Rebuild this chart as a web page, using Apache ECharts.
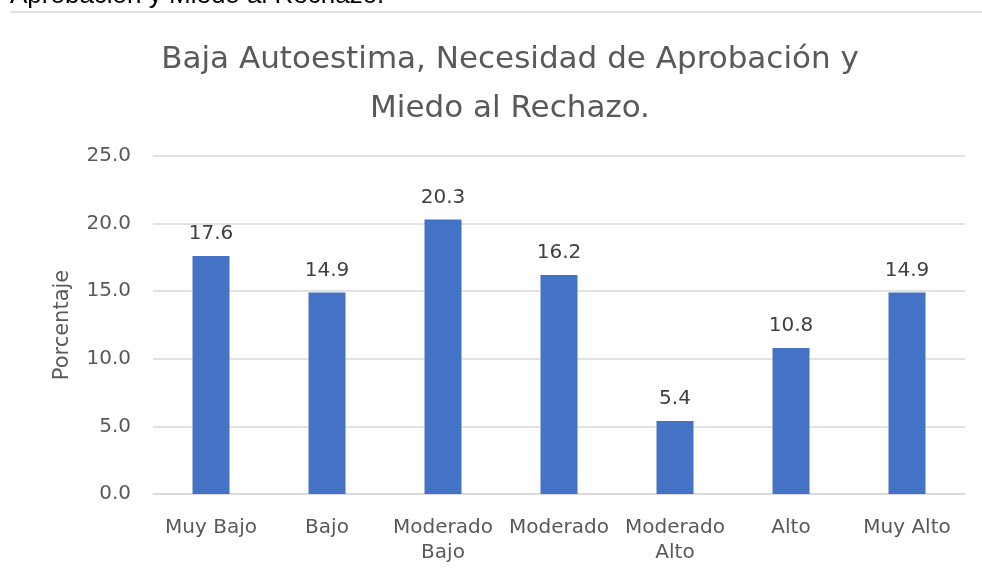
<!DOCTYPE html>
<html>
<head>
<meta charset="utf-8">
<script src="https://cdn.jsdelivr.net/npm/echarts@6/dist/echarts.min.js"></script>
<style>
  html, body { margin: 0; padding: 0; background: #fff; }
  #chart { width: 982px; height: 577px; }
</style>
</head>
<body>
<div id="chart"></div>
<script>
// datos del grafico
var categorias = ['Muy Bajo', 'Bajo', 'Moderado\nBajo', 'Moderado', 'Moderado\nAlto', 'Alto', 'Muy Alto'];
var porcentajes = [17.6, 14.9, 20.3, 16.2, 5.4, 10.8, 14.9];
var titulo = 'Baja Autoestima, Necesidad de Aprobación y\nMiedo al Rechazo.';
var textoArriba = 'Aprobación y Miedo al Rechazo.';

var myChart = echarts.init(document.getElementById('chart'));
var option = {
  animation: false,
  textStyle: {
    fontFamily: 'DejaVu Sans'
  },
  title: {
    text: titulo,
    left: 505,
    top: 30,
    textAlign: 'center',
    textStyle: {
      color: '#595959',
      fontSize: 31,
      fontWeight: 'normal',
      lineHeight: 49,
      fontFamily: 'DejaVu Sans'
    }
  },
  graphic: [
    {
      type: 'text',
      left: 10,
      top: -17,
      style: {
        text: textoArriba,
        fill: '#000',
        font: '26px "Liberation Sans"'
      }
    },
    {
      type: 'line',
      shape: { x1: 10, y1: 12, x2: 982, y2: 12 },
      style: { stroke: '#d9d9d9', lineWidth: 1.5 }
    }
  ],
  grid: {
    left: 153,
    right: 17,
    top: 156,
    bottom: 83
  },
  xAxis: {
    type: 'category',
    data: categorias,
    axisLine: {
      show: true,
      lineStyle: { color: '#d9d9d9', width: 1.5 }
    },
    axisTick: { show: false },
    axisLabel: {
      color: '#595959',
      fontSize: 20,
      lineHeight: 25,
      margin: 21,
      interval: 0
    }
  },
  yAxis: {
    type: 'value',
    min: 0,
    max: 25,
    interval: 5,
    name: 'Porcentaje',
    nameLocation: 'middle',
    nameGap: 80,
    nameTextStyle: {
      color: '#595959',
      fontSize: 21
    },
    axisLine: { show: false },
    axisTick: { show: false },
    splitLine: {
      show: true,
      lineStyle: { color: '#d9d9d9', width: 1.5 }
    },
    axisLabel: {
      color: '#595959',
      fontSize: 20,
      margin: 22,
      formatter: function (v) { return v.toFixed(1); }
    }
  },
  series: [
    {
      type: 'bar',
      data: porcentajes,
      barWidth: 37,
      itemStyle: { color: '#4472c4' },
      label: {
        show: true,
        position: 'top',
        distance: 12,
        color: '#404040',
        fontSize: 20,
        formatter: function (p) { return p.value.toFixed(1); }
      }
    }
  ]
};
option && myChart.setOption(option);
</script>
</body>
</html>
